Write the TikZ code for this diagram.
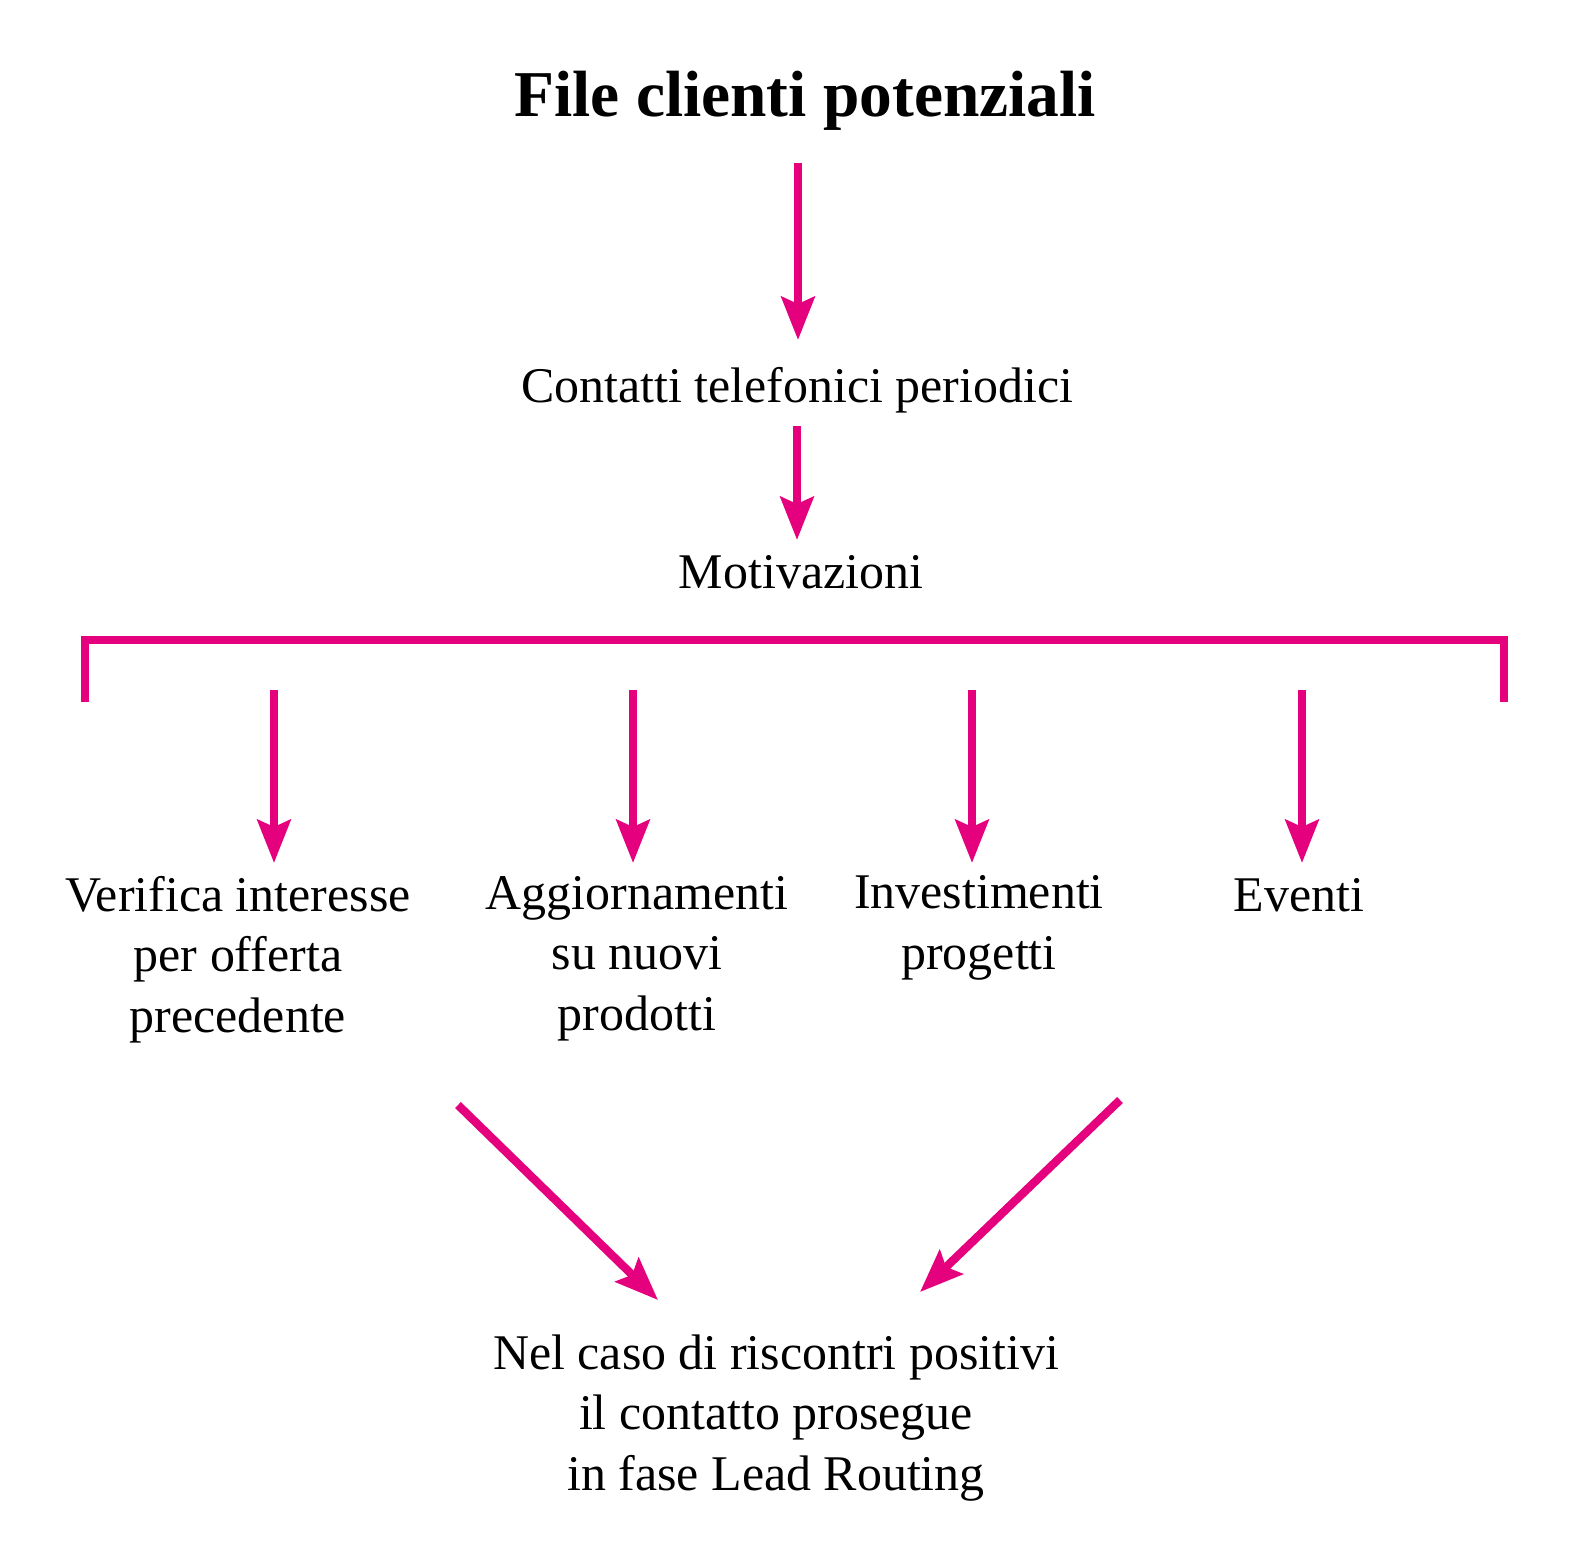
\documentclass[tikz,border=0pt]{standalone}
\usepackage{fontspec}
\setmainfont{Liberation Serif}
\usetikzlibrary{arrows.meta}
\definecolor{fucsia}{RGB}{229,0,126}
\tikzset{
    >={Stealth[length=0.43cm, width=0.33cm, inset=0.07cm]} % Default arrow tip
}
\tikzstyle{titolo}=[
    anchor = base,
    inner sep = 0cm,
    font = \fontsize{18.6}{22}\selectfont\bfseries
]
% base of a node on more lines = baseline of its last line
\tikzstyle{voce}=[
    anchor = base,
    inner sep = 0cm,
    align = center,
    font = \fontsize{14.2}{17.2}\selectfont
]
\tikzstyle{flow}=[
    draw = fucsia,
    line width = 0.083cm
]

\begin{document}
\begin{tikzpicture}[x=0.01cm, y=-0.01cm]
    \useasboundingbox (0, 0) rectangle (1582, 1566);

    \node [titolo] (file) at (805, 116) {File clienti potenziali};
    \node [voce] (contatti) at (797, 402) {Contatti telefonici periodici};
    \node [voce] (motiv) at (801, 588) {Motivazioni};

    \node [voce] (verifica) at (238, 1032) {Verifica interesse\\per offerta\\precedente};
    \node [voce] (aggiorn) at (637, 1030) {Aggiornamenti\\su nuovi\\prodotti};
    \node [voce] (invest) at (979, 969) {Investimenti\\progetti};
    \node [voce] (eventi) at (1299, 911) {Eventi};

    \node [voce] (lead) at (776, 1490) {Nel caso di riscontri positivi\\il contatto prosegue\\in fase Lead Routing};

    % arrow ends
    \coordinate (f0) at (798, 163);
    \coordinate (f1) at (798, 340);
    \coordinate (c0) at (797, 426);
    \coordinate (c1) at (797, 540);

    \coordinate (bl) at (85, 702);
    \coordinate (blt) at (85, 640);
    \coordinate (brt) at (1504, 640);
    \coordinate (br) at (1504, 702);

    \coordinate (v0) at (274, 690);
    \coordinate (v1) at (274, 863);
    \coordinate (a0) at (633, 690);
    \coordinate (a1) at (633, 863);
    \coordinate (i0) at (972, 690);
    \coordinate (i1) at (972, 863);
    \coordinate (e0) at (1302, 690);
    \coordinate (e1) at (1302, 863);

    \coordinate (l0) at (458, 1105);
    \coordinate (l1) at (658, 1300);
    \coordinate (r0) at (1120, 1100);
    \coordinate (r1) at (920, 1292);

    \draw [flow, ->] (f0) -- (f1);
    \draw [flow, ->] (c0) -- (c1);

    \draw [flow, line join=miter] (bl) -- (blt) -- (brt) -- (br);

    \draw [flow, ->] (v0) -- (v1);
    \draw [flow, ->] (a0) -- (a1);
    \draw [flow, ->] (i0) -- (i1);
    \draw [flow, ->] (e0) -- (e1);

    \draw [flow, ->] (l0) -- (l1);
    \draw [flow, ->] (r0) -- (r1);
\end{tikzpicture}
\end{document}
